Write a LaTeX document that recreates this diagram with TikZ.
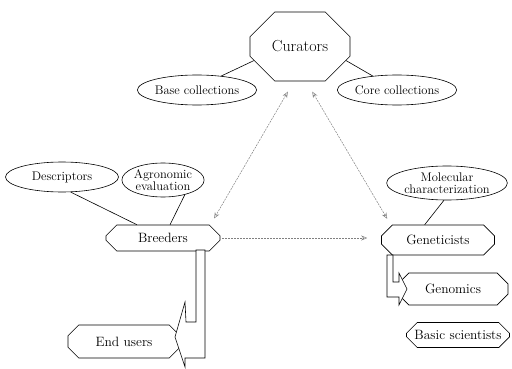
\documentclass[tikz,border=0pt]{standalone}
\usepackage{fontspec}
\usetikzlibrary{shapes.geometric,shapes.misc,arrows.meta}

\tikzset{
  topic/.style={ellipse,draw,line width=0.6pt,inner sep=0pt,align=center,
    font=\fontsize{12.5}{12}\selectfont},
  actor/.style={chamfered rectangle,chamfered rectangle sep=6pt,draw,fill=white,
    line width=0.6pt,inner sep=0pt,font=\fontsize{13.5}{16}\selectfont},
  link/.style={line width=0.6pt},
  flow/.style={gray,line width=0.5pt,dash pattern=on 2pt off 1pt},
  turn/.style={draw,fill=white,line width=0.6pt}
}

\begin{document}
\begin{tikzpicture}[x=1pt,y=-1pt]
  \useasboundingbox (0,0) rectangle (512,369);
  % curators and the collections
  \node[actor,chamfered rectangle sep=19pt,minimum width=100pt,minimum height=69pt,
    font=\fontsize{16}{18}\selectfont] (cur) at (300,46.5) {Curators};
  \node[topic,minimum width=105pt,minimum height=30pt] (base) at (197,90) {Base collections};
  \node[topic,minimum width=109pt,minimum height=30pt] (core) at (397,90) {Core collections};
  \draw[link] (base.30) -- (cur.197);
  \draw[link] (core.150) -- (cur.343);

  % breeders side
  \node[topic,minimum width=113pt,minimum height=30pt] (desc) at (62,177) {Descriptors};
  \node[topic,minimum width=80pt,minimum height=34pt] (agro) at (163,180) {Agronomic\\evaluation};
  \node[actor,minimum width=114pt,minimum height=26pt] (breed) at (163,238) {Breeders};
  \draw[link] (desc.-60) -- (breed.153);
  \draw[link] (agro.-34) -- (breed.62);
  \node[actor,minimum width=112pt,minimum height=33pt] (end) at (124,341.5) {End users};
  \draw[turn] (196,250) -- (205,250) -- (205,358) -- (185,358) -- (185,367) -- (175,337)
    -- (185,302) -- (186,322) -- (196,322) -- cycle;

  % geneticists side
  \node[topic,minimum width=119pt,minimum height=34pt] (molec) at (447,183) {Molecular\\characterization};
  \node[actor,minimum width=113pt,minimum height=30pt] (gen) at (438,240) {Geneticists};
  \draw[link] (molec.-100) -- (gen.131);
  \node[actor,minimum width=110pt,minimum height=32pt] (genom) at (453,289) {Genomics};
  \draw[turn] (387,255) -- (393,255) -- (393,282) -- (399,282) -- (399,273) -- (407,289)
    -- (399,305) -- (399,297) -- (387,297) -- cycle;
  \node[actor,minimum width=103pt,minimum height=25pt] (basic) at (458,335) {Basic scientists};

  % exchanges
  \draw[flow,{Stealth[open,length=6pt,width=5pt]}-{Stealth[open,length=6pt,width=5pt]},
    shorten <=12pt,shorten >=8pt] (cur.260) -- (breed.15);
  \draw[flow,{Stealth[open,length=6pt,width=5pt]}-{Stealth[open,length=6pt,width=5pt]},
    shorten <=12pt,shorten >=8pt] (cur.280) -- (gen.163);
  \draw[flow,-{Stealth[open,length=6pt,width=5pt]},shorten <=2pt,shorten >=14pt]
    (breed.east) -- (breed.east -| gen.west);
\end{tikzpicture}
\end{document}
